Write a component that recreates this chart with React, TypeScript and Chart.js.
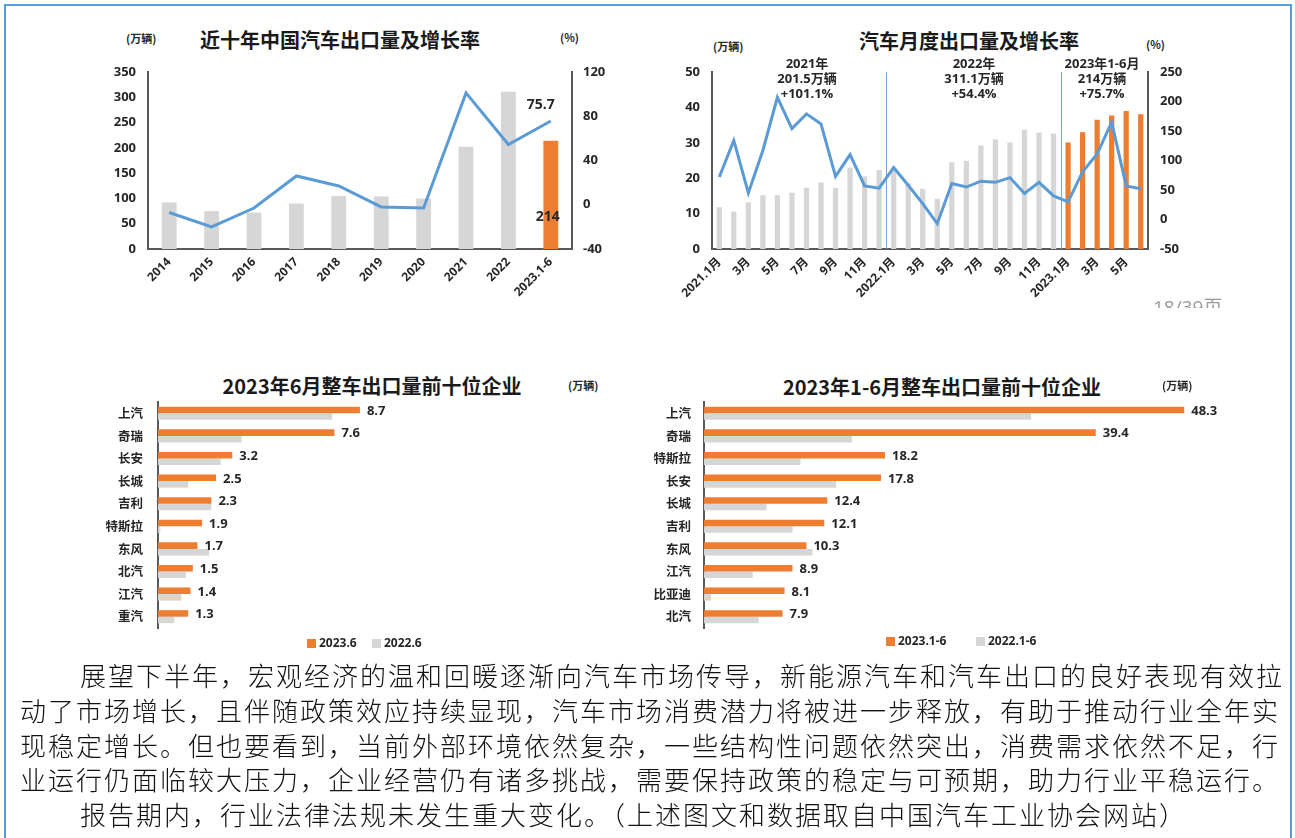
import React, { useEffect, useRef } from "react";
import { Chart, registerables } from "chart.js";

Chart.register(...registerables);

const NUM_FONT = "'Open Sans','Noto Sans CJK SC',sans-serif";
const CJK_FONT = "'Noto Sans CJK SC','Open Sans',sans-serif";
const ORANGE = "#ED7D31";
const GRAY = "#D6D6D6";
const BLUE = "#5B9BD5";
const AXIS = "#595959";
const TEXT = "#262626";

// ---- Chart 1: 近十年中国汽车出口量及增长率 ----
const yearCategories = ["2014", "2015", "2016", "2017", "2018", "2019", "2020", "2021", "2022", "2023.1-6"];
const yearVolumes = [92, 75, 72, 90, 105, 104, 100, 202, 311, 214];
const yearGrowth = [-7, -20, -3, 26, 17, -2, -3, 101.1, 54.4, 75.7];
const yearLeftTicks = [0, 350, 50];
const yearRightTicks = [-40, 120, 40];

// ---- Chart 2: 汽车月度出口量及增长率 ----
const monthCategories = [
  "2021.1月", "2月", "3月", "4月", "5月", "6月", "7月", "8月", "9月", "10月", "11月", "12月",
  "2022.1月", "2月", "3月", "4月", "5月", "6月", "7月", "8月", "9月", "10月", "11月", "12月",
  "2023.1月", "2月", "3月", "4月", "5月", "6月",
];
const monthVolumes = [
  11.8, 10.6, 13.2, 15.2, 15.2, 15.9, 17.3, 18.8, 17.3, 23.0, 20.5, 22.3,
  23.0, 18.6, 17.0, 14.2, 24.5, 24.9, 29.2, 31.0, 30.1, 33.7, 32.9, 32.6,
  30.1, 33.0, 36.5, 37.7, 39.0, 38.1,
];
const monthGrowth = [
  72, 134, 45, 117, 207, 154, 179, 162, 73, 110, 57, 53,
  88, 58, 27, -7, 61, 55, 65, 63, 71, 44, 63, 40,
  30, 81, 111, 165, 57, 52,
];
const monthAnnotations = [
  ["2021年", "201.5万辆", "+101.1%"],
  ["2022年", "311.1万辆", "+54.4%"],
  ["2023年1-6月", "214万辆", "+75.7%"],
];

// ---- Chart 3: 2023年6月整车出口量前十位企业 ----
const juneCompanies = ["上汽", "奇瑞", "长安", "长城", "吉利", "特斯拉", "东风", "北汽", "江汽", "重汽"];
const june2023 = [8.7, 7.6, 3.2, 2.5, 2.3, 1.9, 1.7, 1.5, 1.4, 1.3];
const june2022 = [7.5, 3.6, 2.7, 1.3, 2.3, 0.1, 2.2, 1.2, 1.0, 0.7];

// ---- Chart 4: 2023年1-6月整车出口量前十位企业 ----
const halfCompanies = ["上汽", "奇瑞", "特斯拉", "长安", "长城", "吉利", "东风", "江汽", "比亚迪", "北汽"];
const half2023 = [48.3, 39.4, 18.2, 17.8, 12.4, 12.1, 10.3, 8.9, 8.1, 7.9];
const half2022 = [32.9, 14.9, 9.7, 13.3, 6.3, 8.9, 10.9, 4.9, 0.7, 5.5];

const paragraphLines = [
  "展望下半年，宏观经济的温和回暖逐渐向汽车市场传导，新能源汽车和汽车出口的良好表现有效拉",
  "动了市场增长，且伴随政策效应持续显现，汽车市场消费潜力将被进一步释放，有助于推动行业全年实",
  "现稳定增长。但也要看到，当前外部环境依然复杂，一些结构性问题依然突出，消费需求依然不足，行",
  "业运行仍面临较大压力，企业经营仍有诸多挑战，需要保持政策的稳定与可预期，助力行业平稳运行。",
  "报告期内，行业法律法规未发生重大变化。（上述图文和数据取自中国汽车工业协会网站）",
];

const tickFont = (size: number) => ({ family: NUM_FONT, size, weight: "bold" as const });

type Box = { left: number; top: number; width: number; height: number };

function ChartCanvas({ box, build }: { box: Box; build: () => any }) {
  const ref = useRef<HTMLCanvasElement | null>(null);
  useEffect(() => {
    if (!ref.current) return;
    const chart = new Chart(ref.current, build());
    return () => chart.destroy();
  }, []);
  return (
    <canvas
      ref={ref}
      width={box.width}
      height={box.height}
      style={{ position: "absolute", left: box.left, top: box.top, width: box.width, height: box.height }}
    />
  );
}

const hiddenGrid = { display: false, drawTicks: false };
const axisBorder = { display: true, color: AXIS, width: 2 };

function buildYearChart() {
  const last = yearCategories.length - 1;
  const labelPlugin = {
    id: "yearLabels",
    afterDatasetsDraw(chart: any) {
      const ctx = chart.ctx;
      const bar = chart.getDatasetMeta(0).data[last];
      const pt = chart.getDatasetMeta(1).data[last];
      ctx.save();
      ctx.font = `bold 14px ${NUM_FONT}`;
      ctx.fillStyle = TEXT;
      ctx.textAlign = "center";
      ctx.textBaseline = "middle";
      ctx.fillText(String(yearGrowth[last]), pt.x - 10, pt.y - 16);
      ctx.fillText(String(yearVolumes[last]), bar.x - 3, chart.scales.y.getPixelForValue(0) - 32);
      ctx.restore();
    },
  };
  return {
    type: "bar",
    data: {
      labels: yearCategories,
      datasets: [
        {
          type: "bar",
          data: yearVolumes,
          backgroundColor: yearCategories.map((_, i) => (i === last ? ORANGE : GRAY)),
          barPercentage: 0.35,
          categoryPercentage: 1,
          yAxisID: "y",
          order: 2,
        },
        {
          type: "line",
          data: yearGrowth,
          borderColor: BLUE,
          borderWidth: 3,
          pointRadius: 0,
          tension: 0,
          yAxisID: "y1",
          order: 1,
        },
      ],
    },
    options: {
      responsive: false,
      animation: false,
      layout: { padding: { top: 52, left: 0, right: 0, bottom: 0 }, autoPadding: false },
      plugins: { legend: { display: false }, tooltip: { enabled: false } },
      scales: {
        x: {
          grid: hiddenGrid,
          border: axisBorder,
          ticks: { minRotation: 45, maxRotation: 45, autoSkip: false, padding: 6, color: TEXT, font: tickFont(12) },
          afterFit: (s: any) => { s.height = 71; },
        },
        y: {
          position: "left",
          min: yearLeftTicks[0],
          max: yearLeftTicks[1],
          grid: hiddenGrid,
          border: axisBorder,
          ticks: { stepSize: yearLeftTicks[2], padding: 12, color: TEXT, font: tickFont(13) },
          afterFit: (s: any) => { s.width = 58; },
        },
        y1: {
          position: "right",
          min: yearRightTicks[0],
          max: yearRightTicks[1],
          grid: hiddenGrid,
          border: axisBorder,
          ticks: { stepSize: yearRightTicks[2], padding: 11, color: TEXT, font: tickFont(13) },
          afterFit: (s: any) => { s.width = 58; },
        },
      },
    },
    plugins: [labelPlugin],
  };
}

function buildMonthChart() {
  const dividerPlugin = {
    id: "dividers",
    beforeDatasetsDraw(chart: any) {
      const ctx = chart.ctx;
      const { top, bottom } = chart.chartArea;
      ctx.save();
      ctx.strokeStyle = "#6FA8DC";
      ctx.lineWidth = 1;
      [11.5, 23.5].forEach((v) => {
        const px = Math.round(chart.scales.x.getPixelForValue(v)) + 0.5;
        ctx.beginPath();
        ctx.moveTo(px, top);
        ctx.lineTo(px, bottom);
        ctx.stroke();
      });
      ctx.restore();
    },
  };
  const split = 24;
  return {
    type: "bar",
    data: {
      labels: monthCategories,
      datasets: [
        {
          type: "bar",
          data: monthVolumes,
          backgroundColor: monthCategories.map((_, i) => (i >= split ? ORANGE : GRAY)),
          barPercentage: 0.36,
          categoryPercentage: 1,
          yAxisID: "y",
          order: 2,
        },
        {
          type: "line",
          data: monthGrowth,
          borderColor: BLUE,
          borderWidth: 3,
          pointRadius: 0,
          tension: 0,
          yAxisID: "y1",
          order: 1,
        },
      ],
    },
    options: {
      responsive: false,
      animation: false,
      layout: { padding: { top: 52, left: 0, right: 0, bottom: 0 }, autoPadding: false },
      plugins: { legend: { display: false }, tooltip: { enabled: false } },
      scales: {
        x: {
          grid: hiddenGrid,
          border: axisBorder,
          ticks: {
            minRotation: 45,
            maxRotation: 45,
            autoSkip: false,
            padding: 6,
            color: TEXT,
            font: tickFont(12),
            callback: function (this: any, value: any, index: number) {
              return index % 2 === 0 ? this.getLabelForValue(value) : "";
            },
          },
          afterFit: (s: any) => { s.height = 71; },
        },
        y: {
          position: "left",
          min: 0,
          max: 50,
          grid: hiddenGrid,
          border: axisBorder,
          ticks: { stepSize: 10, padding: 12, color: TEXT, font: tickFont(13) },
          afterFit: (s: any) => { s.width = 62; },
        },
        y1: {
          position: "right",
          min: -50,
          max: 250,
          grid: hiddenGrid,
          border: axisBorder,
          ticks: { stepSize: 50, padding: 12, color: TEXT, font: tickFont(13) },
          afterFit: (s: any) => { s.width = 82; },
        },
      },
    },
    plugins: [dividerPlugin],
  };
}

function buildRankChart(
  companies: string[],
  current: number[],
  previous: number[],
  max: number,
  axisWidth: number,
  labelPad: number,
  padRight: number
) {
  const valuePlugin = {
    id: "rankValues",
    afterDatasetsDraw(chart: any) {
      const ctx = chart.ctx;
      const meta = chart.getDatasetMeta(0);
      ctx.save();
      ctx.font = `bold 13px ${NUM_FONT}`;
      ctx.fillStyle = TEXT;
      ctx.textAlign = "left";
      ctx.textBaseline = "middle";
      meta.data.forEach((el: any, i: number) => {
        ctx.fillText(current[i].toFixed(1), el.x + 7, el.y + 1);
      });
      ctx.restore();
    },
  };
  return {
    type: "bar",
    data: {
      labels: companies,
      datasets: [
        { data: current, backgroundColor: ORANGE, barPercentage: 1, categoryPercentage: 0.58 },
        { data: previous, backgroundColor: GRAY, barPercentage: 1, categoryPercentage: 0.58 },
      ],
    },
    options: {
      indexAxis: "y",
      responsive: false,
      animation: false,
      layout: { padding: { top: 30, left: 0, right: padRight, bottom: 30 }, autoPadding: false },
      plugins: { legend: { display: false }, tooltip: { enabled: false } },
      scales: {
        x: { display: false, min: 0, max },
        y: {
          grid: hiddenGrid,
          border: axisBorder,
          ticks: { padding: labelPad, color: TEXT, font: { family: CJK_FONT, size: 12.5, weight: "bold" } },
          afterFit: (s: any) => { s.width = axisWidth; },
        },
      },
    },
    plugins: [valuePlugin],
  };
}

const abs = (left: number, top: number, extra: React.CSSProperties = {}): React.CSSProperties => ({
  position: "absolute",
  left,
  top,
  whiteSpace: "nowrap",
  ...extra,
});

const titleStyle: React.CSSProperties = {
  fontFamily: CJK_FONT,
  fontWeight: 700,
  fontSize: 20,
  color: "#1A1A1A",
  lineHeight: "24px",
};
const unitStyle: React.CSSProperties = {
  fontFamily: CJK_FONT,
  fontWeight: 700,
  fontSize: 11,
  color: TEXT,
  lineHeight: "14px",
};
const legendText: React.CSSProperties = {
  fontFamily: NUM_FONT,
  fontWeight: 700,
  fontSize: 12,
  color: TEXT,
  lineHeight: "14px",
};

function Centered({ cx, cy, children, style }: { cx: number; cy: number; children: React.ReactNode; style: React.CSSProperties }) {
  return (
    <div style={{ position: "absolute", left: cx - 300, top: cy - 12, width: 600, textAlign: "center", whiteSpace: "nowrap", ...style, lineHeight: "24px" }}>
      {children}
    </div>
  );
}

function Legend({ x, y, items }: { x: number; y: number; items: { color: string; label: string; gap: number }[] }) {
  let cur = x;
  return (
    <>
      {items.map((it) => {
        const left = cur;
        cur += it.gap;
        return (
          <div key={it.label} style={abs(left, y - 7, { display: "flex", alignItems: "center", height: 14 })}>
            <span style={{ display: "inline-block", width: 9, height: 9, background: it.color, marginRight: 3 }} />
            <span style={legendText}>{it.label}</span>
          </div>
        );
      })}
    </>
  );
}

export default function App() {
  const annotationX = [807, 974, 1102];
  const annotationY = [63, 78, 93];
  const lineCenters = [675, 710, 744.5, 779, 814];
  const lineStarts = [80, 20, 20, 20, 80];
  return (
    <div
      style={{
        position: "fixed",
        left: 0,
        top: 0,
        width: 1295,
        height: 838,
        background: "#FFFFFF",
        overflow: "hidden",
      }}
    >
      {/* page border */}
      <div style={{ position: "absolute", left: 4, top: 4, width: 1288, height: 2, background: BLUE }} />
      <div style={{ position: "absolute", left: 4, top: 4, width: 2, height: 834, background: BLUE }} />
      <div style={{ position: "absolute", left: 1290, top: 4, width: 2, height: 834, background: BLUE }} />

      {/* Chart 1 */}
      <Centered cx={340} cy={40} style={titleStyle}>近十年中国汽车出口量及增长率</Centered>
      <div style={abs(126, 31, unitStyle)}>(万辆)</div>
      <div style={abs(560, 30, unitStyle)}>(%)</div>
      <ChartCanvas box={{ left: 90, top: 20, width: 540, height: 300 }} build={buildYearChart} />

      {/* Chart 2 */}
      <Centered cx={969} cy={41} style={titleStyle}>汽车月度出口量及增长率</Centered>
      <div style={abs(713, 39, unitStyle)}>(万辆)</div>
      <div style={abs(1146, 37, unitStyle)}>(%)</div>
      <ChartCanvas box={{ left: 650, top: 20, width: 580, height: 300 }} build={buildMonthChart} />
      {monthAnnotations.map((lines, i) =>
        lines.map((t, j) => (
          <Centered
            key={`${i}-${j}`}
            cx={annotationX[i]}
            cy={annotationY[j]}
            style={{ fontFamily: NUM_FONT, fontWeight: 700, fontSize: 13, color: TEXT }}
          >
            {t}
          </Centered>
        ))
      )}
      <div style={abs(1153, 294, { width: 75, height: 14, overflow: "hidden" })}>
        <div style={{ fontFamily: NUM_FONT, fontSize: 19, color: "#9A9A9A", lineHeight: "26px", marginTop: 0 }}>18/39页</div>
      </div>

      {/* Chart 3 */}
      <Centered cx={372} cy={386} style={titleStyle}>2023年6月整车出口量前十位企业</Centered>
      <div style={abs(568, 378, unitStyle)}>(万辆)</div>
      <ChartCanvas
        box={{ left: 80, top: 372, width: 560, height: 286 }}
        build={() => buildRankChart(juneCompanies, june2023, june2022, 19, 78, 15, 41)}
      />
      <Legend
        x={307}
        y={643}
        items={[
          { color: ORANGE, label: "2023.6", gap: 65 },
          { color: GRAY, label: "2022.6", gap: 60 },
        ]}
      />

      {/* Chart 4 */}
      <Centered cx={942} cy={387} style={titleStyle}>2023年1-6月整车出口量前十位企业</Centered>
      <div style={abs(1162, 378, unitStyle)}>(万辆)</div>
      <ChartCanvas
        box={{ left: 620, top: 372, width: 640, height: 286 }}
        build={() => buildRankChart(halfCompanies, half2023, half2022, 52, 84, 13, 39)}
      />
      <Legend
        x={886}
        y={641}
        items={[
          { color: ORANGE, label: "2023.1-6", gap: 90 },
          { color: GRAY, label: "2022.1-6", gap: 80 },
        ]}
      />

      {/* paragraph */}
      {paragraphLines.map((line, i) => (
        <div
          key={i}
          style={abs(lineStarts[i], lineCenters[i] - 16, {
            fontFamily: CJK_FONT,
            fontWeight: 300,
            fontSize: 26,
            letterSpacing: "2px",
            lineHeight: "32px",
            color: "#111111",
          })}
        >
          {line}
        </div>
      ))}
    </div>
  );
}
